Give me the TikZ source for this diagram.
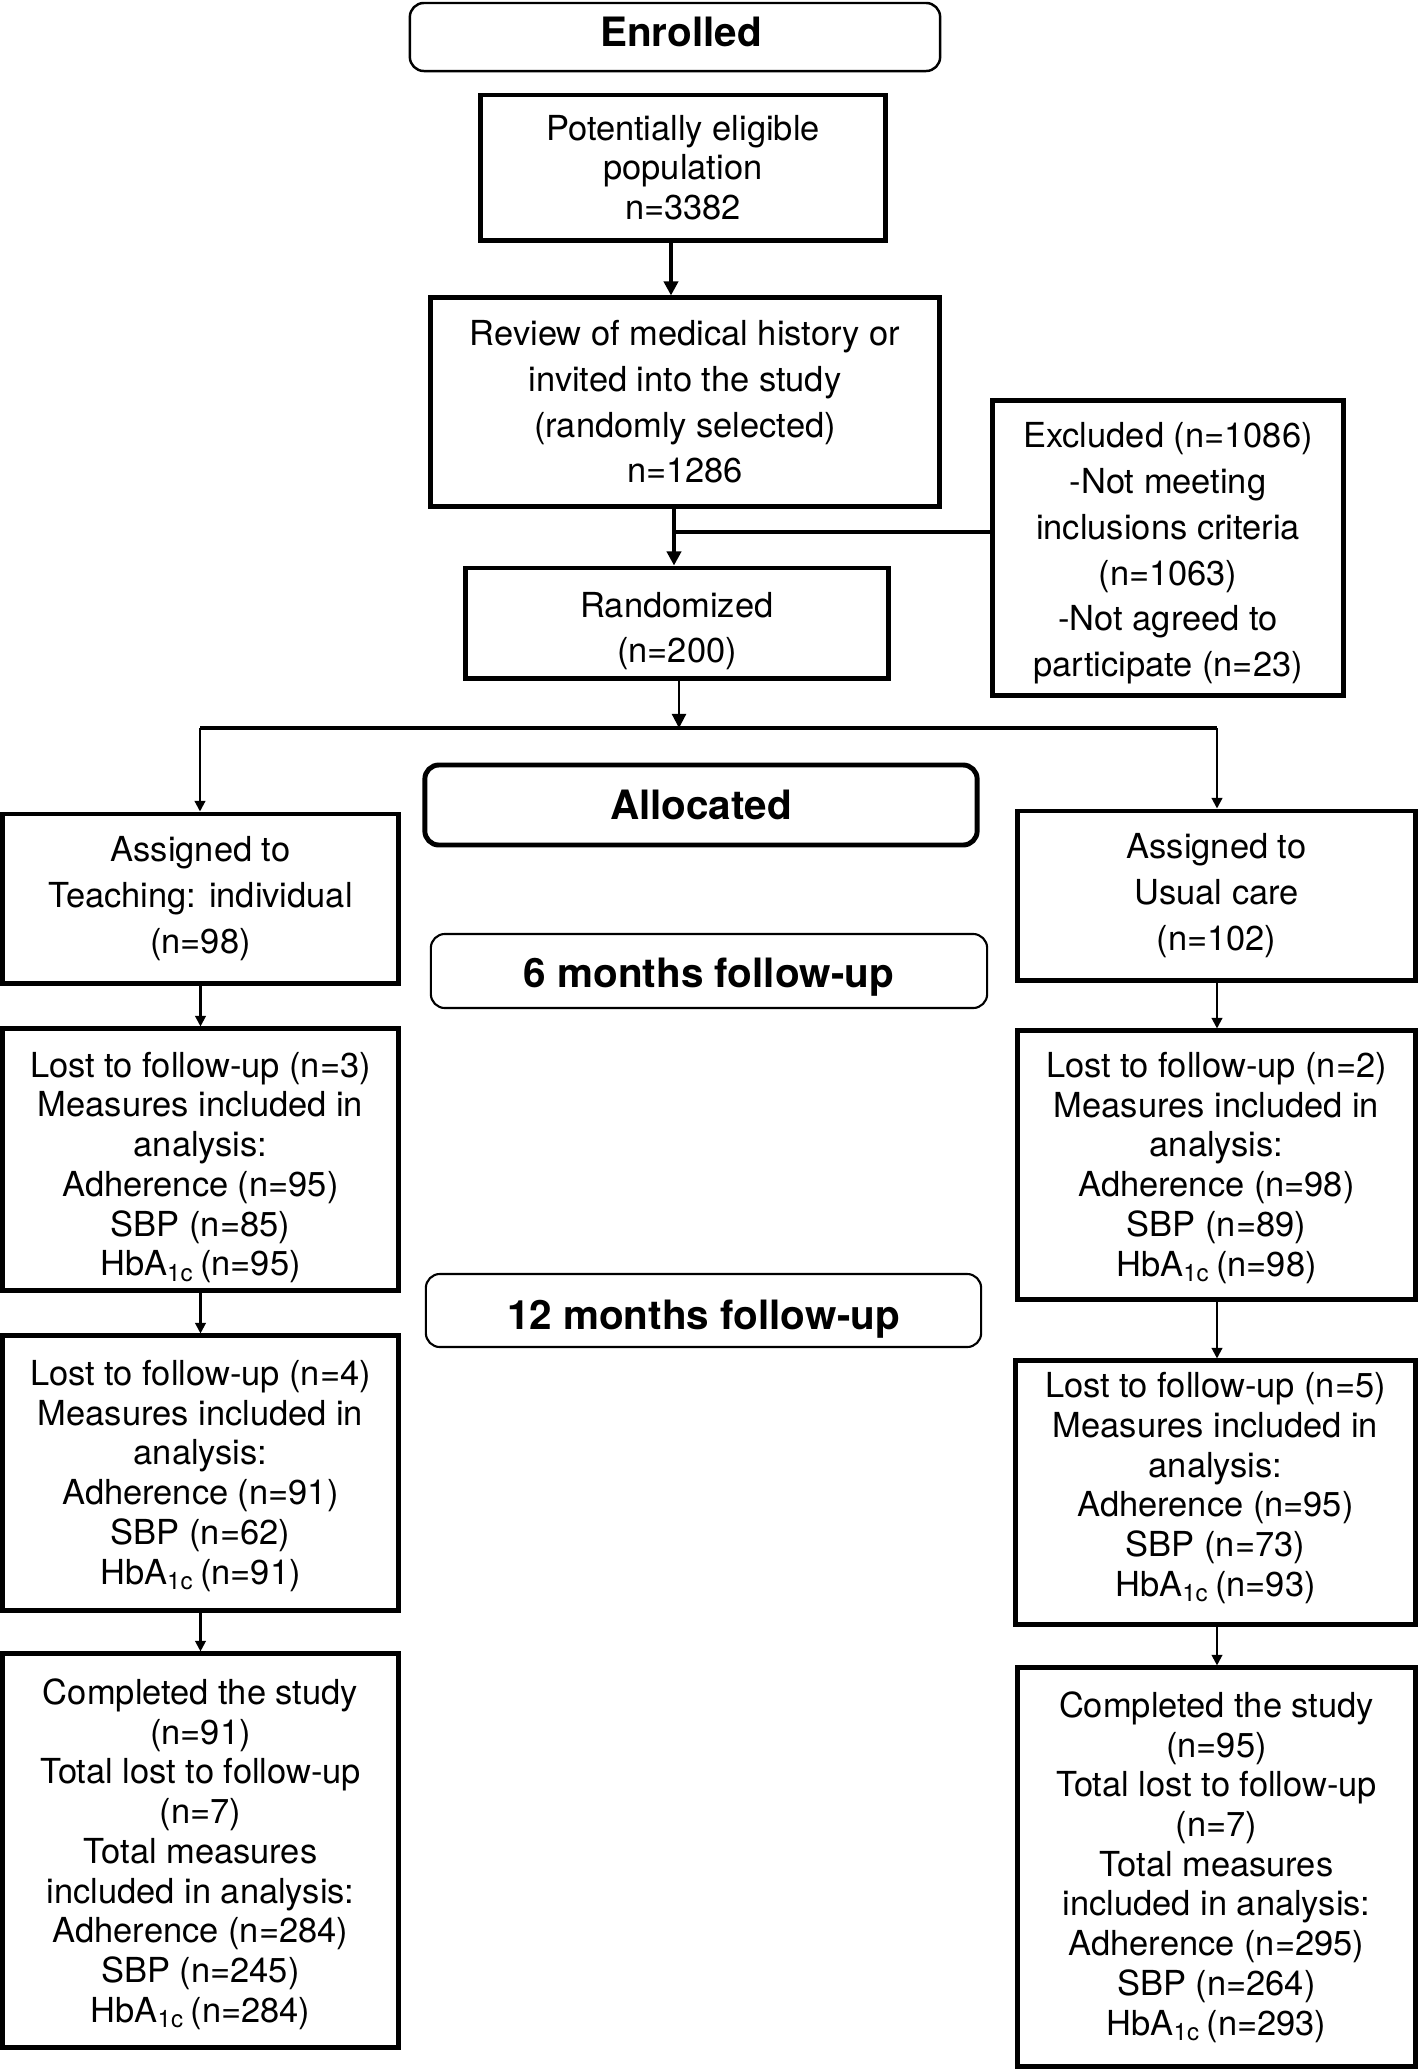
\documentclass[tikz,border=0pt]{standalone}
\usepackage{fontspec}
\setmainfont{TeX Gyre Heros}
\usepackage{tikz}
\usetikzlibrary{arrows.meta}
\newcommand{\hba}{HbA\textsubscript{1c}}
\newcommand{\dropby}[1]{\rule{0pt}{#1}}

\tikzset{
  box/.style={draw, line width=1.4pt, align=center, inner sep=0pt, font=\fontsize{9.8}{11.3}\selectfont},
  wide/.style={box, font=\fontsize{9.8}{13}\selectfont},
  head/.style={draw, rounded corners=4pt, line width=0.7pt, inner sep=0pt, font=\fontsize{11.5}{13}\selectfont\bfseries},
  drop/.style={execute at begin node={\rule{0pt}{#1}}},
  lift/.style={execute at end node={\rule[-#1]{0pt}{#1}}},
  trunk/.style={line width=1.1pt},
  branch/.style={line width=0.6pt},
  bigtip/.style={-{Triangle[length=4pt,width=4pt]}},
  smalltip/.style={-{Triangle[length=3pt,width=3pt]}},
}

\begin{document}
\begin{tikzpicture}[x=0.01cm,y=-0.01cm]
		\useasboundingbox (0,0) rectangle (1418,2069);
		
		% headings
		\node[head, lift=3pt, minimum width=5.3cm, minimum height=0.68cm] (enr) at (675,37) {\hspace{0.12cm}Enrolled};
		\node[head, line width=1.4pt, minimum width=5.52cm, minimum height=0.8cm] (alc) at (701,805) {Allocated};
		\node[head, drop=12pt, line width=0.6pt, minimum width=5.56cm, minimum height=0.74cm] (six) at (709,971) {6 months follow-up};
		\node[head, drop=13.5pt, line width=0.6pt, minimum width=5.55cm, minimum height=0.73cm] (twl) at (703.5,1310.5) {12 months follow-up};
		
		% enrolment
		\node[box, minimum width=4.04cm, minimum height=1.45cm] (pop) at (683,167.5) {Potentially eligible\\population\\n=3382};
		\node[wide, minimum width=5.08cm, minimum height=2.08cm] (rev) at (685,402) {Review of medical history or\\invited into the study\\(randomly selected)\\n=1286};
		\node[wide, minimum width=3.5cm, minimum height=2.94cm] (exc) at (1168,548) {\dropby{10.2pt}Excluded (n=1086)\\-Not meeting\\inclusions criteria\\(n=1063)\\-Not agreed to\\participate (n=23)};
		\node[wide, minimum width=4.22cm, minimum height=1.1cm] (rnd) at (677,623) {\dropby{11.7pt}Randomized\\(n=200)};
		
		% teaching arm
		\node[wide, minimum width=3.95cm, minimum height=1.69cm] (asl) at (200.5,898.5) {Assigned to\\Teaching: individual\\(n=98)};
		\node[box, minimum width=3.95cm, minimum height=2.61cm] (lol) at (200.5,1159.5) {\dropby{11.7pt}Lost to follow-up (n=3)\\Measures included in\\analysis:\\Adherence (n=95)\\SBP (n=85)\\\hba\,(n=95)};
		\node[box, minimum width=3.95cm, minimum height=2.74cm] (ltl) at (200.5,1473) {\dropby{8.7pt}Lost to follow-up (n=4)\\Measures included in\\analysis:\\Adherence (n=91)\\SBP (n=62)\\\hba\,(n=91)};
		\node[box, minimum width=3.95cm, minimum height=3.93cm] (cpl) at (200.5,1850.5) {\dropby{9.4pt}Completed the study\\(n=91)\\Total lost to follow-up\\(n=7)\\Total measures\\included in analysis:\\Adherence (n=284)\\SBP (n=245)\\\hba\,(n=284)};
		
		% usual care arm
		\node[wide, minimum width=3.97cm, minimum height=1.69cm] (asr) at (1216.5,895.5) {Assigned to\\Usual care\\(n=102)};
		\node[box, minimum width=3.97cm, minimum height=2.68cm] (lor) at (1216.5,1165) {\dropby{8.7pt}Lost to follow-up (n=2)\\Measures included in\\analysis:\\Adherence (n=98)\\SBP (n=89)\\\hba\,(n=98)};
		\node[box, lift=4.7pt, minimum width=3.99cm, minimum height=2.63cm] (ltr) at (1215.5,1492.5) {Lost to follow-up (n=5)\\Measures included in\\analysis:\\Adherence (n=95)\\SBP (n=73)\\\hba\,(n=93)};
		\node[box, minimum width=3.97cm, minimum height=3.98cm] (cpr) at (1216.5,1867) {Completed the study\\(n=95)\\Total lost to follow-up\\(n=7)\\Total measures\\included in analysis:\\Adherence (n=295)\\SBP (n=264)\\\hba\,(n=293)};
		
		% trunk
		\coordinate (join) at (674,532);
		\coordinate (split) at (679,728);
		\coordinate (spl) at (200,728);
		\coordinate (spr) at (1217,728);
		\draw[trunk, bigtip] ([xshift=-0.12cm]pop.south) -- ([xshift=-0.12cm]pop.south |- rev.north);
		\draw[trunk, bigtip] (rev.south -| join) -- (rnd.north -| join);
		\draw[trunk] (exc.west |- join) -- (join);
		\draw[branch, bigtip] (rnd.south -| split) -- (split);
		\draw[trunk] (spl) -- (spr);
		
		% arms
		\draw[branch, smalltip] (spl) -- (asl.north -| spl);
		\draw[branch, smalltip] (spr) -- (asr.north -| spr);
		\draw[branch, smalltip] (asl) -- (lol);
		\draw[branch, smalltip] (lol) -- (ltl);
		\draw[branch, smalltip] (ltl) -- (cpl);
		\draw[branch, smalltip] (asr.south -| spr) -- (lor.north -| spr);
		\draw[branch, smalltip] (lor.south -| spr) -- (ltr.north -| spr);
		\draw[branch, smalltip] (ltr.south -| spr) -- (cpr.north -| spr);
		
		\end{tikzpicture}
\end{document}
